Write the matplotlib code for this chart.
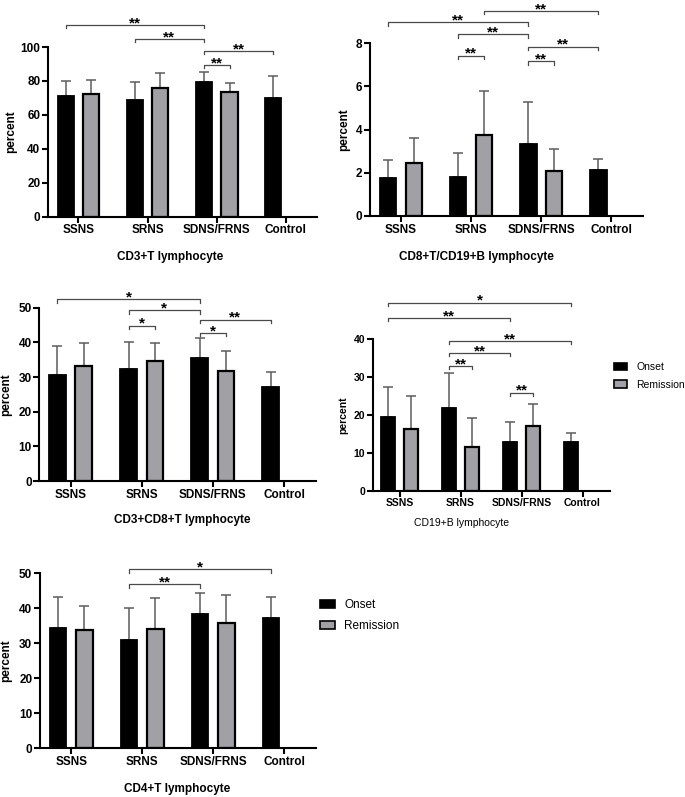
import matplotlib
matplotlib.use('Agg')
import matplotlib.pyplot as plt
import numpy as np
from matplotlib.patches import Patch

plt.rcParams['font.family'] = ['Liberation Sans', 'DejaVu Sans']

groups = ['SSNS', 'SRNS', 'SDNS/FRNS', 'Control']
series_names = ['Onset', 'Remission']

# CD3+T lymphocyte
cd3_onset = [71.1, 68.6, 79.4, 69.7]
cd3_onset_sd = [8.9, 11.0, 5.7, 13.0]
cd3_remission = [72.3, 75.8, 73.3]
cd3_remission_sd = [8.2, 8.7, 5.7]
# (group, series), (group, series), bracket height, label
cd3_sig = [((0, 0), (2, 0), 113.0, '**'), ((1, 0), (2, 0), 104.7, '**'),
           ((2, 0), (3, 0), 97.6, '**'), ((2, 0), (2, 1), 89.4, '**')]

# CD8+T/CD19+B lymphocyte
ratio_onset = [1.78, 1.82, 3.34, 2.13]
ratio_onset_sd = [0.82, 1.08, 1.93, 0.51]
ratio_remission = [2.44, 3.77, 2.10]
ratio_remission_sd = [1.19, 2.04, 1.02]
ratio_sig = [((1, 1), (3, 0), 9.5, '**'), ((0, 0), (2, 0), 8.97, '**'),
             ((1, 0), (2, 0), 8.42, '**'), ((2, 0), (3, 0), 7.85, '**'),
             ((1, 0), (1, 1), 7.43, '**'), ((2, 0), (2, 1), 7.17, '**')]

# CD3+CD8+T lymphocyte
cd8_onset = [30.6, 32.2, 35.6, 27.0]
cd8_onset_sd = [8.3, 8.0, 5.6, 4.4]
cd8_remission = [33.3, 34.5, 31.8]
cd8_remission_sd = [6.6, 5.4, 5.8]
cd8_sig = [((0, 0), (2, 0), 52.5, '*'), ((1, 0), (2, 0), 49.3, '*'),
           ((2, 0), (3, 0), 46.5, '**'), ((1, 0), (1, 1), 44.8, '*'),
           ((2, 0), (2, 1), 42.7, '*')]

# CD19+B lymphocyte
cd19_onset = [19.5, 21.8, 12.8, 12.9]
cd19_onset_sd = [7.9, 9.3, 5.4, 2.2]
cd19_remission = [16.4, 11.4, 17.1]
cd19_remission_sd = [8.6, 7.9, 5.7]
cd19_sig = [((0, 0), (3, 0), 49.6, '*'), ((0, 0), (2, 0), 45.5, '**'),
            ((1, 0), (3, 0), 39.5, '**'), ((1, 0), (2, 0), 36.2, '**'),
            ((1, 0), (1, 1), 32.9, '**'), ((2, 0), (2, 1), 25.8, '**')]

# CD4+T lymphocyte
cd4_onset = [34.5, 30.9, 38.4, 37.1]
cd4_onset_sd = [8.7, 9.3, 5.9, 6.2]
cd4_remission = [33.9, 34.2, 35.8]
cd4_remission_sd = [6.9, 8.8, 7.9]
cd4_sig = [((1, 0), (3, 0), 51.1, '*'), ((1, 0), (2, 0), 46.9, '**')]

ONSET_COLOR = 'black'
REM_COLOR = '#a1a1a5'
ERR_COLOR = '#5c5c5c'
OFFSET = 0.185
WIDTH = 0.235


def draw_panel(ax, onset, onset_sd, rem, rem_sd, ymax, ystep, sig, fs=8.5, ylabel_x=-0.1):
    x = np.arange(len(groups))
    xo = x - OFFSET
    xr = x[:len(rem)] + OFFSET

    ax.bar(xo, onset, WIDTH, color=ONSET_COLOR, edgecolor='black', linewidth=1.3, zorder=2)
    ax.bar(xr, rem, WIDTH, color=REM_COLOR, edgecolor='black', linewidth=1.6, zorder=2)
    ax.errorbar(xo, onset, yerr=[np.zeros(len(onset)), onset_sd], fmt='none',
                ecolor=ERR_COLOR, elinewidth=1.1, capsize=3.3, capthick=1.1, zorder=1)
    ax.errorbar(xr, rem, yerr=[np.zeros(len(rem)), rem_sd], fmt='none',
                ecolor=ERR_COLOR, elinewidth=1.1, capsize=3.3, capthick=1.1, zorder=1)

    # significance brackets (drawn above the axes as in the original)
    pos = [xo, xr]
    drop = 0.02 * ymax
    for (g1, s1), (g2, s2), h, lab in sig:
        x1, x2 = pos[s1][g1], pos[s2][g2]
        ax.plot([x1, x1, x2, x2], [h - drop, h, h, h - drop], color='#4a4a4a',
                lw=0.9, clip_on=False, zorder=3)
        ax.annotate(lab, ((x1 + x2) / 2, h), xytext=(0, -1.5), textcoords='offset points',
                    ha='center', va='baseline', fontsize=11, fontweight='bold',
                    annotation_clip=False)

    ax.set_xlim(-0.44, 3.45)
    ax.set_ylim(0, ymax)
    ax.set_yticks(np.arange(0, ymax + ystep / 2, ystep))
    ax.set_xticks(x)
    ax.set_xticklabels(groups)
    for side in ['top', 'right']:
        ax.spines[side].set_visible(False)
    for side in ['left', 'bottom']:
        ax.spines[side].set_linewidth(1.5)
    ax.tick_params(axis='both', width=1.5, length=4, pad=1.5, labelsize=fs)
    for lab in ax.get_xticklabels() + ax.get_yticklabels():
        lab.set_fontweight('bold')
    ax.set_ylabel('percent', fontsize=fs, fontweight='bold')
    ax.yaxis.set_label_coords(ylabel_x, 0.5)


W, H = 685, 797
fig = plt.figure(figsize=(W / 100, H / 100), dpi=100)


def add_axes(left, right, top, bottom):
    return fig.add_axes([left / W, 1 - bottom / H, (right - left) / W, (bottom - top) / H])


ax1 = add_axes(48, 317, 47, 216.7)
draw_panel(ax1, cd3_onset, cd3_onset_sd, cd3_remission, cd3_remission_sd, 100, 20, cd3_sig,
           ylabel_x=-0.115)

ax2 = add_axes(370, 643, 43.3, 216)
draw_panel(ax2, ratio_onset, ratio_onset_sd, ratio_remission, ratio_remission_sd, 8, 2, ratio_sig,
           ylabel_x=-0.073)

ax3 = add_axes(39.3, 316, 307.7, 481)
draw_panel(ax3, cd8_onset, cd8_onset_sd, cd8_remission, cd8_remission_sd, 50, 10, cd8_sig,
           ylabel_x=-0.099)

ax4 = add_axes(372.7, 610, 339, 490.7)
draw_panel(ax4, cd19_onset, cd19_onset_sd, cd19_remission, cd19_remission_sd, 40, 10, cd19_sig,
           fs=7.5, ylabel_x=-0.104)

ax5 = add_axes(40, 316, 573.3, 748.3)
draw_panel(ax5, cd4_onset, cd4_onset_sd, cd4_remission, cd4_remission_sd, 50, 10, cd4_sig,
           ylabel_x=-0.101)

# captions under each panel
fig.text(170 / W, 1 - 257 / H, 'CD3+T lymphocyte', ha='center', va='center',
         fontsize=8.5, fontweight='bold')
fig.text(476 / W, 1 - 257 / H, 'CD8+T/CD19+B lymphocyte', ha='center', va='center',
         fontsize=8.5, fontweight='bold')
fig.text(182 / W, 1 - 520 / H, 'CD3+CD8+T lymphocyte', ha='center', va='center',
         fontsize=8.5, fontweight='bold')
fig.text(462 / W, 1 - 523 / H, 'CD19+B lymphocyte', ha='center', va='center',
         fontsize=7.5)
fig.text(177 / W, 1 - 789 / H, 'CD4+T lymphocyte', ha='center', va='center',
         fontsize=8.5, fontweight='bold')

handles = [Patch(facecolor=ONSET_COLOR, edgecolor='black', linewidth=1.2, label=series_names[0]),
           Patch(facecolor=REM_COLOR, edgecolor='black', linewidth=1.2, label=series_names[1])]
fig.legend(handles=handles, loc='upper left', bbox_to_anchor=(614 / W, 1 - 362 / H),
           frameon=False, fontsize=7.5, handlelength=1.25, handleheight=0.75,
           handletextpad=0.9, labelspacing=0.75, borderpad=0, borderaxespad=0)
fig.legend(handles=handles, loc='upper left', bbox_to_anchor=(320 / W, 1 - 599 / H),
           frameon=False, fontsize=8.5, handlelength=1.25, handleheight=0.65,
           handletextpad=0.8, labelspacing=0.75, borderpad=0, borderaxespad=0)

fig.savefig('out.png', dpi=100)
